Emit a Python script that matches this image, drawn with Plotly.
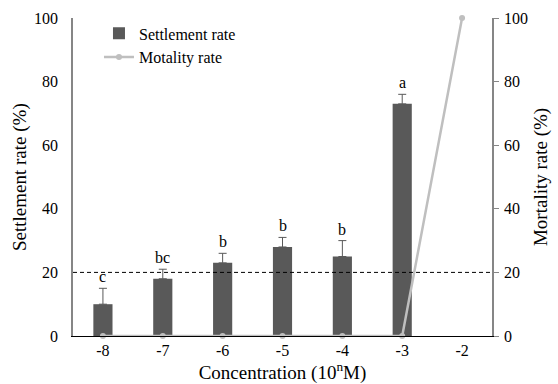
import plotly.graph_objects as go

# Concentration exponents (10^n M)
concentrations = [-8, -7, -6, -5, -4, -3, -2]
tick_labels = ["-8", "-7", "-6", "-5", "-4", "-3", "-2"]

# Settlement rate (%) with upper standard error, for -8 .. -3
settle_conc = [-8, -7, -6, -5, -4, -3]
settlement = [10, 18, 23, 28, 25, 73]
settlement_err = [5, 3, 3, 3, 5, 3]
letters = ["c", "bc", "b", "b", "b", "a"]

# Mortality rate (%)
mortality = [0, 0, 0, 0, 0, 0, 100]

# Reference level for settlement
threshold = 20

FONT = "Liberation Serif"
BAR_COLOR = "#595959"
LINE_COLOR = "#BFBFBF"
AXIS_COLOR = "#868686"

fig = go.Figure()

fig.add_trace(go.Bar(
    x=settle_conc, y=settlement, name="Settlement rate",
    marker=dict(color=BAR_COLOR, line=dict(width=0)),
    width=0.32,
    error_y=dict(type="data", array=settlement_err, arrayminus=[0] * len(settlement_err),
                 symmetric=False, color=BAR_COLOR, thickness=1, width=4),
))

fig.add_trace(go.Scatter(
    x=concentrations, y=mortality, name="Motality rate", yaxis="y2",
    mode="lines+markers",
    line=dict(color=LINE_COLOR, width=2.5),
    marker=dict(color=LINE_COLOR, size=6),
    cliponaxis=False,
))

for c, v, e, t in zip(settle_conc, settlement, settlement_err, letters):
    fig.add_annotation(x=c, y=v + e, xref="x", yref="y", text=t, showarrow=False,
                       yanchor="bottom", yshift=1,
                       font=dict(family=FONT, size=16, color="black"))

# Vertical axis titles, placed beside the tick labels
fig.add_annotation(x=-0.1265, y=0.5, xref="paper", yref="paper", text="Settlement rate (%)",
                   textangle=-90, showarrow=False, xanchor="center", yanchor="middle",
                   font=dict(family=FONT, size=19, color="black"))
fig.add_annotation(x=1.117, y=0.5, xref="paper", yref="paper", text="Mortality rate (%)",
                   textangle=-90, showarrow=False, xanchor="center", yanchor="middle",
                   font=dict(family=FONT, size=19, color="black"))

fig.add_shape(type="line", xref="paper", x0=0, x1=1, yref="y", y0=threshold, y1=threshold,
              line=dict(color="black", width=1, dash="4px,3px"))

fig.update_layout(
    width=558, height=384,
    margin=dict(l=73, r=66, t=18, b=48),
    paper_bgcolor="white", plot_bgcolor="white",
    font=dict(family=FONT, size=16, color="black"),
    showlegend=True,
    legend=dict(x=0.062, y=1.005, xanchor="left", yanchor="top",
                bgcolor="rgba(0,0,0,0)", font=dict(family=FONT, size=16),
                itemwidth=30, tracegroupgap=0),
    xaxis=dict(
        range=[-8.5, -1.5], tickmode="array", tickvals=concentrations, ticktext=tick_labels,
        showline=True, linecolor="black", linewidth=1, ticks="",
        showgrid=False, zeroline=False, automargin=False,
        tickfont=dict(family=FONT, size=16),
        title=dict(text="Concentration (10<sup>n</sup>M)", font=dict(family=FONT, size=19)),
    ),
    yaxis=dict(
        range=[0, 100], dtick=20, showline=True, linecolor=AXIS_COLOR, linewidth=1.5,
        ticks="", showgrid=False, zeroline=False, automargin=False,
        tickfont=dict(family=FONT, size=16), ticklabelstandoff=10,
    ),
    yaxis2=dict(
        range=[0, 100], dtick=20, overlaying="y", side="right",
        showline=True, linecolor=AXIS_COLOR, linewidth=1.5,
        ticks="outside", ticklen=5, tickcolor=AXIS_COLOR,
        showgrid=False, zeroline=False, automargin=False,
        tickfont=dict(family=FONT, size=16), ticklabelstandoff=2,
    ),
)

fig.write_html("out.html")
